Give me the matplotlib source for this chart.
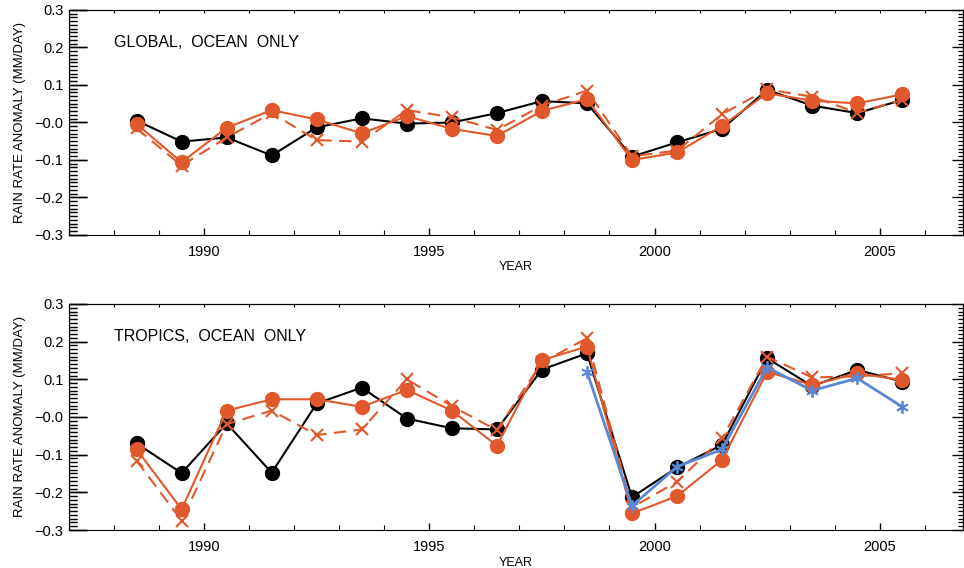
import matplotlib
matplotlib.use("Agg")
import numpy as np
import matplotlib.pyplot as plt
from matplotlib.ticker import MultipleLocator, FixedLocator, NullFormatter

plt.rcParams["font.family"] = ["Liberation Sans", "DejaVu Sans"]

# --- Data: yearly rain rate anomalies (mm/day), plotted at mid-year ---
years = [1988.5, 1989.5, 1990.5, 1991.5, 1992.5, 1993.5, 1994.5, 1995.5, 1996.5,
         1997.5, 1998.5, 1999.5, 2000.5, 2001.5, 2002.5, 2003.5, 2004.5, 2005.5]

global_black = [0.005, -0.051, -0.040, -0.088, -0.013, 0.011, -0.003, 0.000, 0.025,
                0.057, 0.051, -0.091, -0.053, -0.017, 0.087, 0.045, 0.025, 0.060]
global_orange = [-0.004, -0.106, -0.014, 0.033, 0.008, -0.029, 0.017, -0.017, -0.036,
                 0.031, 0.062, -0.100, -0.080, -0.009, 0.078, 0.058, 0.051, 0.075]
global_dashed = [-0.016, -0.115, -0.040, 0.025, -0.047, -0.051, 0.033, 0.014, -0.020,
                 0.045, 0.085, -0.090, -0.075, 0.022, 0.088, 0.069, 0.026, 0.060]

tropics_black = [-0.070, -0.149, -0.017, -0.148, 0.036, 0.078, -0.004, -0.030, -0.033,
                 0.126, 0.169, -0.213, -0.134, -0.074, 0.156, 0.082, 0.125, 0.094]
tropics_orange = [-0.086, -0.245, 0.017, 0.047, 0.047, 0.027, 0.072, 0.017, -0.076,
                  0.151, 0.187, -0.256, -0.210, -0.114, 0.120, 0.085, 0.116, 0.098]
tropics_dashed = [-0.116, -0.275, -0.019, 0.017, -0.048, -0.033, 0.100, 0.029, -0.035,
                  0.145, 0.209, -0.240, -0.172, -0.057, 0.160, 0.105, 0.108, 0.116]
blue_years = [1998.5, 1999.5, 2000.5, 2001.5, 2002.5, 2003.5, 2004.5, 2005.5]
tropics_blue = [0.120, -0.236, -0.132, -0.086, 0.132, 0.070, 0.103, 0.027]

panel_titles = ["GLOBAL,  OCEAN  ONLY", "TROPICS,  OCEAN  ONLY"]
ytick_vals = [-0.3, -0.2, -0.1, 0.0, 0.1, 0.2, 0.3]
ytick_labels = ["\u22120.3", "\u22120.2", "\u22120.1", "\u22120.0", "0.1", "0.2", "0.3"]
xtick_vals = [1990, 1995, 2000, 2005]

ORANGE = "#E0582B"
BLUE = "#5B88D4"

XLIM = (1987, 2006.85)
YLIM = (-0.3, 0.3)
# minor y ticks every 0.01
y_minor = np.round(np.arange(-0.3, 0.3001, 0.01), 3)

fig = plt.figure(figsize=(9.64, 5.68), dpi=100)
ax_top = fig.add_axes([0.0716, 0.5863, 0.9274, 0.3961])
ax_bot = fig.add_axes([0.0716, 0.0669, 0.9274, 0.3979])


def style_axes(ax):
    ax.set_xlim(*XLIM)
    ax.set_ylim(*YLIM)
    ax.yaxis.set_major_locator(FixedLocator(ytick_vals))
    ax.set_yticklabels(ytick_labels)
    ax.yaxis.set_minor_locator(FixedLocator(y_minor))
    ax.set_xticks(xtick_vals)
    ax.set_xticklabels([str(v) for v in xtick_vals])
    ax.xaxis.set_minor_locator(MultipleLocator(1))
    ax.tick_params(axis="y", which="major", direction="in", length=13, width=1,
                   labelsize=10.5, pad=4, left=True, right=False)
    ax.tick_params(axis="y", which="minor", direction="in", length=6, width=0.9,
                   left=True, right=False)
    ax.tick_params(axis="x", which="major", direction="in", length=5, width=1,
                   labelsize=10.5, pad=7, bottom=True, top=False)
    ax.tick_params(axis="x", which="minor", direction="in", length=3.5, width=0.8,
                   bottom=True, top=False)
    ax.set_xlabel("YEAR", fontsize=9, labelpad=2)
    ax.set_ylabel("RAIN RATE ANOMALY (MM/DAY)", fontsize=9.5, labelpad=6)

    # extra tick rows on their own thin axes: long ticks on the left,
    # shorter ones on the right, small yearly ticks along the top
    for side, major_len, minor_len in [("left", 13, 6), ("right", 8, 3.5)]:
        sec = ax.secondary_yaxis(side)
        sec.yaxis.set_major_locator(FixedLocator(ytick_vals))
        sec.yaxis.set_minor_locator(FixedLocator(y_minor))
        sec.yaxis.set_major_formatter(NullFormatter())
        sec.tick_params(axis="y", which="major", direction="in", length=major_len, width=1)
        sec.tick_params(axis="y", which="minor", direction="in", length=minor_len, width=0.9)
    top = ax.secondary_xaxis("top")
    top.xaxis.set_major_locator(MultipleLocator(1))
    top.xaxis.set_major_formatter(NullFormatter())
    top.tick_params(axis="x", which="major", direction="in", length=2.5, width=0.8)


def draw_series(ax, black, orange, dashed):
    ax.plot(years, black, color="black", lw=1.5, marker="o", ms=10, zorder=3)
    ax.plot(years, orange, color=ORANGE, lw=1.5, marker="o", ms=10, zorder=4)
    ax.plot(years, dashed, color=ORANGE, lw=1.5, dashes=(6, 3.5), marker="x", ms=9,
            mew=1.5, zorder=5)


style_axes(ax_top)
draw_series(ax_top, global_black, global_orange, global_dashed)
ax_top.text(0.05, 0.855, panel_titles[0], transform=ax_top.transAxes, fontsize=11.5,
            va="center", ha="left")

style_axes(ax_bot)
draw_series(ax_bot, tropics_black, tropics_orange, tropics_dashed)
ax_bot.plot(blue_years, tropics_blue, color=BLUE, lw=2, marker=(6, 2, 0), ms=9,
            mew=1.3, zorder=6)
ax_bot.text(0.05, 0.855, panel_titles[1], transform=ax_bot.transAxes, fontsize=11.5,
            va="center", ha="left")

fig.savefig("out.png", dpi=100)
